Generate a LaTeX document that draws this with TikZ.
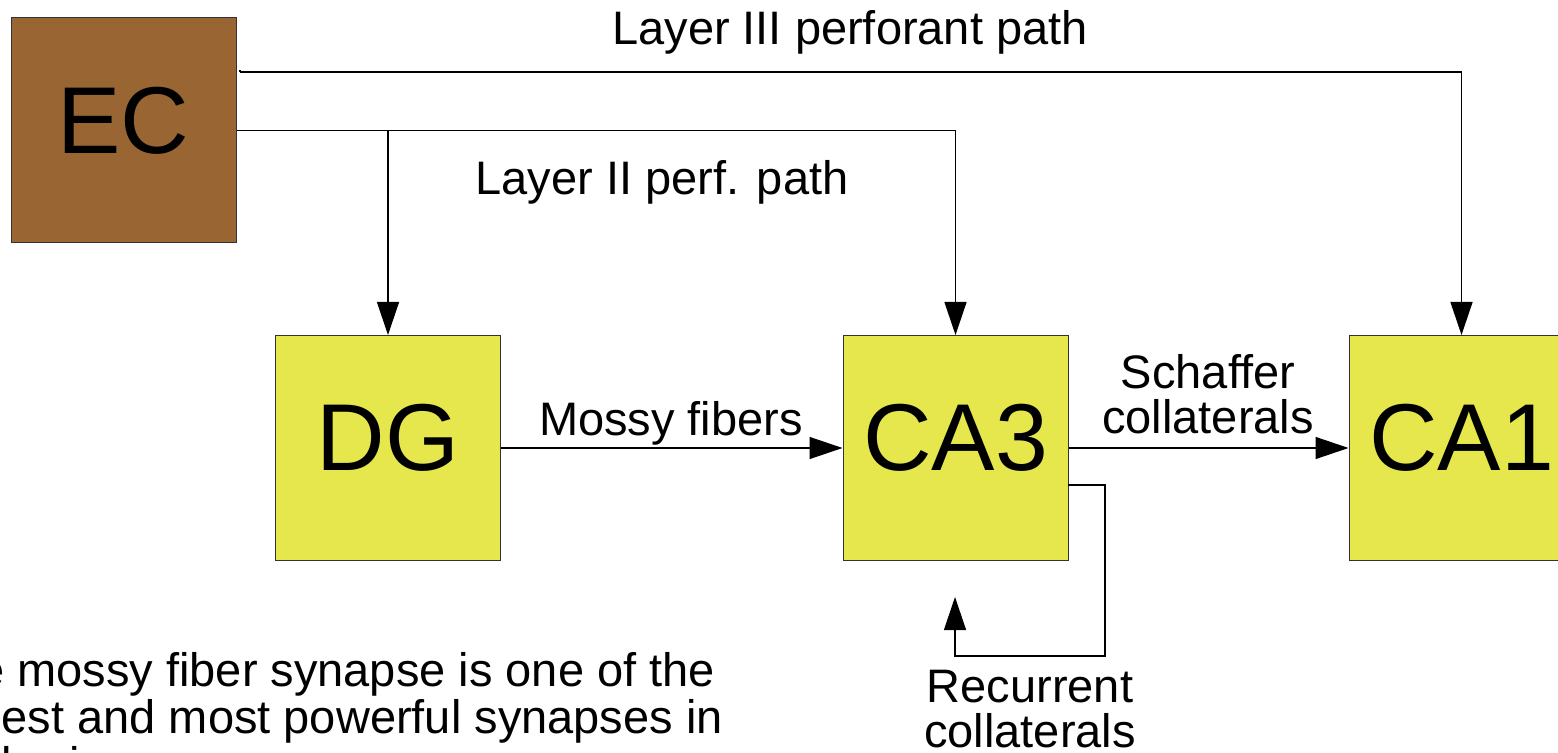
\documentclass[tikz,border=0pt]{standalone}
\usepackage{fontspec}
\setmainfont{Liberation Sans}
\usetikzlibrary{arrows.meta}
\definecolor{ecbrown}{RGB}{153,102,51}
\definecolor{boxyellow}{RGB}{230,230,77}
\begin{document}
\begin{tikzpicture}[x=0.5pt,y=-0.5pt,
  box/.style={draw=black!80, line width=0.5pt, minimum width=112.5pt, minimum height=112.5pt,
    inner sep=0pt, font=\fontsize{47.5pt}{48pt}\selectfont, text height=34pt, text depth=11pt},
  lbl/.style={inner sep=0pt, font=\fontsize{23.5pt}{22.5pt}\selectfont, anchor=base},
  conn/.style={line width=0.65pt, draw=black, -{Triangle[length=16.5pt,width=11pt]}},
  plain/.style={line width=0.65pt, draw=black},
]
\useasboundingbox (0,0) rectangle (1558,753);
% boxes
\node[box, fill=ecbrown] (EC) at (123.5,130.5) {EC};
\node[box, fill=boxyellow] (DG) at (388,448) {DG};
\node[box, fill=boxyellow] (CA3) at (955.5,448) {CA3};
\node[box, fill=boxyellow] (CA1) at (1461.5,448) {CA1};
% helper coordinates
\coordinate (l3start) at (240,72);
\coordinate (rcstart) at (1068,485);
\coordinate (rcright) at (1105,485);
\coordinate (rcbottom) at (1105,656);
\coordinate (rcleft) at (955,656);
\coordinate (rctip) at (955,597);
% connectors
\draw[plain] (l3start) -- ++(0,-2);
\draw[conn] (l3start) -| (CA1.north);
\draw[conn] (EC.east) -| (CA3.north);
\draw[conn] (EC.east -| DG.north) -- (DG.north);
\draw[conn] (DG.east) -- (CA3.west);
\draw[conn] (CA3.east) -- (CA1.west);
\draw[conn] (rcstart) -- (rcright) -- (rcbottom) -- (rcleft) -- (rctip);
% labels
\node[lbl] (l3lab) at (850,45) {Layer III perforant path};
\node[lbl] (l2lab) at (662,195) {Layer II perf. path};
\node[lbl] (mossy) at (671,436) {Mossy fibers};
\node[lbl, align=center] (sch) at (1208,434) {Schaffer\\collaterals};
\node[lbl, align=center] (rec) at (1030,747) {Recurrent\\collaterals};
\node[lbl, anchor=base west, align=left, font=\fontsize{23.5pt}{23.5pt}\selectfont] (note) at (-77,780) {The mossy fiber synapse is one of the\\largest and most powerful synapses in\\the brain};
\end{tikzpicture}
\end{document}
